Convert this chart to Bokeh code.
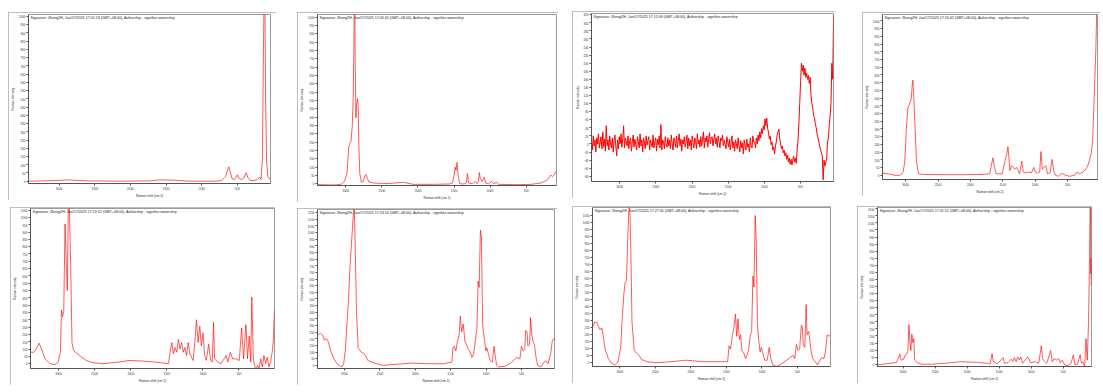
import numpy as np
from bokeh.plotting import figure
from bokeh.layouts import row, column
from bokeh.models import Range1d, FixedTicker, Label
from bokeh.embed import file_html
from bokeh.resources import INLINE

stamps = ["17:01:53", "17:06:45", "17:12:09", "17:16:42",
          "17:19:52", "17:23:10", "17:27:45", "17:31:51"]
x_ticks = [3000, 2500, 2000, 1500, 1000, 500]
y_ticks_1000 = list(range(0, 1001, 50))
y_ticks_1050 = list(range(0, 1051, 50))
y_ticks_1100 = list(range(0, 1101, 50))
y_ticks_1150 = list(range(0, 1151, 50))
y_ticks_p3 = list(range(-80, 321, 20))

# ---- panel 1
p1_shift = [3431, 3048, 2888, 2591, 2135, 1724, 1587, 1358, 1176, 810, 719, 664, 637, 619, 600, 573, 537, 518,
            500, 482, 445, 409, 377, 354, 317, 263, 217, 185, 167, 148, 135, 126, 112, 103, 89, 71, 43, 25]
p1_int = [0, 4, 8, 2, 0, 2, 8, 6, 0, 0, 4, 29, 68, 87, 58, 15, 10, 25, 39, 19, 10, 19, 52, 25, 4, 4, 10, 25, 10,
          126, 706, 1060, 1060, 513, 126, 29, 10, 4]

# ---- panel 2
p2_shift = [3393, 3156, 3066, 3020, 2984, 2961, 2947, 2929, 2911, 2898, 2889, 2884, 2875, 2870, 2861, 2852, 2839,
            2830, 2820, 2807, 2784, 2757, 2739, 2721, 2702, 2680, 2612, 2430, 2203, 2067, 1794, 1567, 1522, 1499,
            1485, 1472, 1458, 1445, 1422, 1363, 1331, 1313, 1299, 1249, 1204, 1181, 1163, 1149, 1136, 1113, 1081,
            1063, 1022, 977, 954, 909, 886, 614, 432, 296, 205, 159, 137, 114, 82]
p2_int = [-6, -8, -4, 13, 61, 214, 242, 252, 347, 519, 805, 1060, 1060, 710, 395, 462, 510, 481, 233, 61, 8, 13,
          42, 55, 32, 10, 4, 0, 8, -4, -4, -2, 4, 52, 99, 80, 128, 52, 0, -2, 4, 61, 4, 0, 13, 0, 13, 67, 32, 13,
          38, 4, 0, 13, 0, 8, -4, -6, -4, 4, 23, 52, 42, 52, 76]

# ---- panel 3: read every 12 cm-1 starting at 3390 cm-1
p3_start, p3_step = 3390, 12
p3_int = [5, -15, 20, -5, 10, -20, 15, 0, 25, -10, 5, 18, -12, 30, -8, 12, -18, 45, -5, 10,
          -15, 20, 0, -10, 15, -20, 8, 22, -5, -30, 10, -12, 18, 0, 25, -8, 12, 45, -10, 15, 5,
          -5, 20, -12, 8, 15, -18, 5, 22, -8, 12, 0, -15, 18, 5, -10, 25, -5, 10, -20, 15,
          3, -12, 20, -3, 8, 18, -15, 10, 0, -8, 22, -10, 5, 15, -18, 12, -2, 20, -10, 48,
          -15, 10, 5, -12, 18, 0, -8, 15, -5,
          10, -12, 22, 0, -15, 15, 5, -8, 20, -10, 8, 25, -5, 12, -18, 10, 0, 18, -8, 5,
          22, -12, 15, -5, 10, -15, 20, 3, -10, 15, 8, -12, 25, 0, 10, -8, 18, -5, 12, 30,
          -10, 15, 5, 20, -8, 12, 28, 0, 15,
          18, -5, 12, 25, 0, 15, -8, 20, 5, -10, 15, 8, 22, -5, 10, 0, -12, 18, 5, -8,
          12, -15, 8, 20, -10, 5, -18, 10, 0, -12, 15, -5, -20, 8, -10, 3, -25, 10, -5, -15,
          12, -8, 0, -20, 15, -5, -10, 20, 5,
          5, -10, 15, 0, 22, 8, 30, 15, 38, 25, 45,
          35, 62, 45, 64, 38, 30, 12, 20, -2, 5, -15,
          -8, -25, -5, 5, 22, 30, 37, 12, 0, -12, -5,
          -22, -15, -30, -22, -38, -28, -45, -35, -50, -38, -52,
          -40, -30, -45, -35, -48, -15, 8, 50, 100, 155, 200,
          180, 195, 170, 188, 165, 175, 160, 170, 150, 165, 120,
          100, 88, 70, 65, 50, 40, 25, 15, 5, -5, -15,
          -22, -30, -89, -40, -55, -45, -38, 5, 15, 45, 70,
          100, 200, 160, 321]
p3_shift = list(p3_start - p3_step * np.arange(len(p3_int)))

# ---- panel 4
p4_shift = [3358, 3267, 3166, 3091, 3040, 3015, 2990, 2964, 2939, 2914, 2899, 2889, 2874, 2853, 2833, 2803, 2722,
            2409, 2106, 1803, 1702, 1672, 1651, 1626, 1601, 1510, 1480, 1460, 1439, 1419, 1404, 1389, 1364, 1338,
            1313, 1288, 1263, 1237, 1207, 1182, 1146, 1096, 1056, 1020, 995, 965, 929, 909, 889, 864, 833, 808,
            768, 737, 712, 682, 641, 601, 566, 530, 465, 389, 354, 313, 263, 212, 177, 136, 111, 86, 61, 45]
p4_int = [14, 10, 0, 0, 21, 82, 298, 441, 462, 493, 585, 616, 503, 298, 92, 10, 6, 4, 4, 6, 10, 72, 113, 51, 10,
          10, 62, 103, 133, 185, 113, 31, 62, 51, 41, 51, 31, 10, 92, 21, 16, 21, 16, 51, 21, 14, 21, 154, 41, 51,
          62, 10, 16, 103, 31, 0, -6, 10, 10, 0, -6, 0, 21, 10, 21, 41, 72, 133, 216, 503, 811, 1100]

# ---- panel 5
p5_shift = [3386, 3349, 3326, 3303, 3272, 3235, 3189, 3121, 3052, 3006, 2975, 2961, 2947, 2929, 2911, 2892, 2879,
            2865, 2852, 2833, 2815, 2792, 2710, 2619, 2527, 2390, 2162, 2025, 1842, 1660, 1477, 1454, 1431, 1409,
            1386, 1363, 1340, 1317, 1294, 1272, 1249, 1226, 1203, 1180, 1135, 1112, 1089, 1066, 1043, 1021, 998,
            975, 952, 920, 893, 870, 852, 838, 792, 747, 678, 655, 619, 587, 541, 495, 463, 436, 404, 381, 358,
            336, 322, 299, 267, 244, 221, 199, 176, 153, 130, 107, 85, 62, 39, 25, 7]
p5_int = [78, 78, 89, 111, 140, 100, 33, 0, -7, 11, 78, 367, 322, 356, 956, 656, 500, 1100, 1100, 678, 144, 89, 56,
          22, 7, 0, 11, 22, 18, 11, 0, 78, 144, 67, 111, 78, 167, 100, 144, 78, 111, 56, 144, 67, 22, 144, 300,
          144, 256, 122, 211, 56, 22, 133, 22, 11, 282, 33, 11, 0, 56, 11, 78, 33, 33, 22, 244, 33, 267, 33, 189,
          11, 456, 22, -44, -11, -33, 33, -22, 56, 0, 44, -22, 11, 78, 144, 367]

# ---- panel 6
p6_shift = [3377, 3340, 3308, 3285, 3249, 3230, 3194, 3148, 3103, 3057, 3034, 3011, 2988, 2966, 2943, 2920, 2897,
            2874, 2861, 2847, 2829, 2806, 2760, 2724, 2701, 2669, 2578, 2463, 2281, 2052, 1824, 1596, 1482, 1468,
            1450, 1427, 1404, 1381, 1363, 1345, 1322, 1299, 1276, 1253, 1231, 1199, 1176, 1153, 1130, 1112, 1098,
            1080, 1066, 1048, 1025, 1002, 989, 966, 943, 911, 888, 874, 852, 820, 728, 637, 568, 523, 500, 477,
            454, 441, 422, 409, 386, 372, 354, 336, 317, 295, 272, 226, 180, 158, 126, 89, 66, 43]
p6_int = [228, 240, 228, 192, 199, 180, 108, 48, 12, -7, -12, 12, 108, 300, 491, 755, 946, 1138, 1200, 874, 395,
          132, 96, 89, 72, 36, 17, 0, 7, 17, 12, 12, 24, 132, 144, 108, 180, 228, 371, 252, 311, 180, 156, 120,
          108, 60, 84, 180, 276, 635, 587, 1018, 970, 300, 204, 108, 132, 84, 36, 24, 144, 84, 0, -12, -7, 24, 60,
          48, 144, 108, 120, 264, 252, 144, 156, 359, 228, 180, 156, 60, 0, -12, 24, 36, 12, 84, 180, 204]

# ---- panel 7
p7_shift = [3381, 3354, 3322, 3299, 3276, 3253, 3230, 3207, 3162, 3116, 3071, 3025, 2988, 2970, 2943, 2925, 2906,
            2888, 2870, 2856, 2842, 2829, 2797, 2765, 2728, 2696, 2614, 2477, 2294, 2066, 1838, 1610, 1482, 1463,
            1441, 1413, 1395, 1372, 1354, 1336, 1317, 1299, 1281, 1258, 1231, 1212, 1189, 1162, 1144, 1126, 1112,
            1094, 1080, 1062, 1043, 1025, 1007, 984, 961, 925, 897, 879, 847, 788, 719, 651, 596, 559, 537, 514,
            491, 468, 445, 432, 418, 395, 377, 363, 340, 322, 308, 285, 249, 217, 194, 158, 126, 103, 80, 57, 34]
p7_int = [256, 290, 286, 256, 234, 249, 177, 98, 29, -5, -16, 7, 109, 290, 494, 574, 585, 902, 1120, 1061, 698,
          290, 86, 68, 52, 23, 7, 0, 7, 18, 7, 7, 7, 120, 98, 200, 245, 347, 188, 313, 166, 200, 86, 75, 29, 52,
          86, 200, 222, 619, 540, 1050, 880, 256, 154, 75, 109, 63, 18, 18, 109, 41, -16, -27, -5, 18, 41, 52, 29,
          131, 86, 98, 268, 256, 131, 109, 415, 200, 222, 143, 86, 29, 7, -16, 7, 36, 29, 86, 200, 188, 200]

# ---- panel 8
p8_shift = [3399, 3308, 3207, 3106, 3065, 3050, 3030, 2995, 2969, 2944, 2924, 2909, 2894, 2879, 2863, 2848, 2833,
            2818, 2778, 2702, 2550, 2348, 2096, 1843, 1692, 1641, 1611, 1591, 1530, 1439, 1414, 1364, 1313, 1288,
            1263, 1237, 1212, 1187, 1162, 1136, 1056, 1010, 934, 884, 843, 823, 793, 758, 697, 672, 641, 606, 571,
            545, 515, 480, 429, 379, 343, 318, 278, 237, 217, 197, 167, 146, 126, 106, 91, 81, 76, 71, 68, 66]
p8_int = [-4, 0, 7, 11, 52, 74, 29, 34, 63, 69, 96, 280, 164, 96, 213, 152, 181, 29, 11, 0, 0, 7, 18, 13, 7, 2,
          74, 18, 2, 47, 7, 11, 36, 18, 47, 18, 52, 29, 52, 7, 52, 11, 18, 7, 130, 40, 22, 7, 96, 18, 40, 29, 40,
          11, 29, -4, -11, 7, 67, -4, 0, 67, 7, 18, -16, 181, 29, 298, 746, 1150, 1150, 640, 750, 560]

FONT = "Liberation Sans"


def panel(shift, inten, xr, yr, yticks, size, borders, margin, stamp, lw=0.65):
    w, h = size
    bl, bt, br, bb = borders
    p = figure(width=w, height=h, x_range=Range1d(*xr), y_range=Range1d(*yr),
               output_backend="svg", toolbar_location=None,
               min_border_left=bl, min_border_top=bt, min_border_right=br, min_border_bottom=bb,
               margin=margin,
               styles={"outline": "1px solid #a8a8a8", "outline-offset": "-1px"})
    p.line(shift, inten, line_color="#ff0000", line_width=lw)
    p.grid.visible = False
    p.outline_line_color = "#9a9a9a"
    p.background_fill_color = "white"
    p.border_fill_color = "white"
    for ax in (p.xaxis[0], p.yaxis[0]):
        ax.major_label_text_font_size = "3px"
        ax.major_label_text_font = FONT
        ax.major_label_text_color = "#333333"
        ax.axis_label_text_font_size = "3.2px"
        ax.axis_label_text_font = FONT
        ax.axis_label_text_font_style = "normal"
        ax.axis_label_text_color = "#222222"
        ax.major_tick_out = 2
        ax.major_tick_in = 0
        ax.minor_tick_out = 0
        ax.minor_tick_in = 0
        ax.major_label_standoff = 1
        ax.axis_label_standoff = 1
        ax.axis_line_color = "#555555"
        ax.major_tick_line_color = "#555555"
    p.xaxis.ticker = FixedTicker(ticks=x_ticks)
    p.yaxis.ticker = FixedTicker(ticks=yticks)
    p.xaxis.axis_label = "Raman shift (cm-1)"
    p.yaxis.axis_label = "Raman intensity"
    p.add_layout(Label(x=xr[0], y=yr[1], x_offset=2, y_offset=-1.5, text_baseline="top",
                       text=f"Signature: ZhengZH, Jan/17/2025 {stamp} (GMT+08:00), Authorship - signifies ownership",
                       text_font=FONT, text_font_size="3.6px", text_color="#222222"))
    return p


f1 = panel(p1_shift, p1_int, (3431, 34), (-14, 1012), y_ticks_1000, (268, 188), (14, 2, 6, 10), (12, 0, 0, 8), stamps[0])
f2 = panel(p2_shift, p2_int, (3393, 80), (-11, 1015), y_ticks_1000, (261, 190), (16, 1, 2, 9), (12, 0, 0, 21), stamps[1])
f3 = panel(p3_shift, p3_int, (3390, 43), (-93, 323), y_ticks_p3, (262, 187), (17, 2, 1, 10), (11, 0, 0, 14), stamps[2], lw=1.0)
f4 = panel(p4_shift, p4_int, (3358, 35), (-27, 1041), y_ticks_1000, (238, 184), (15, 1, 3, 10), (12, 0, 0, 28), stamps[3])
f5 = panel(p5_shift, p5_int, (3390, 7), (-33, 1061), y_ticks_1050, (265, 178), (17, 1, 1, 12), (5, 0, 0, 10), stamps[4])
f6 = panel(p6_shift, p6_int, (3380, 34), (-24, 1174), y_ticks_1150, (260, 177), (13, 0, 3, 10), (6, 0, 0, 22), stamps[5])
f7 = panel(p7_shift, p7_int, (3385, 34), (-27, 1107), y_ticks_1050, (259, 177), (14, 1, 1, 10), (4, 0, 0, 15), stamps[6])
f8 = panel(p8_shift, p8_int, (3399, 60), (-16, 1109), y_ticks_1100, (235, 177), (14, 1, 1, 10), (4, 0, 0, 26), stamps[7])

layout = column(row(f1, f2, f3, f4, spacing=0), row(f5, f6, f7, f8, spacing=0), spacing=0)
open("out.html", "w").write(file_html(layout, INLINE))
